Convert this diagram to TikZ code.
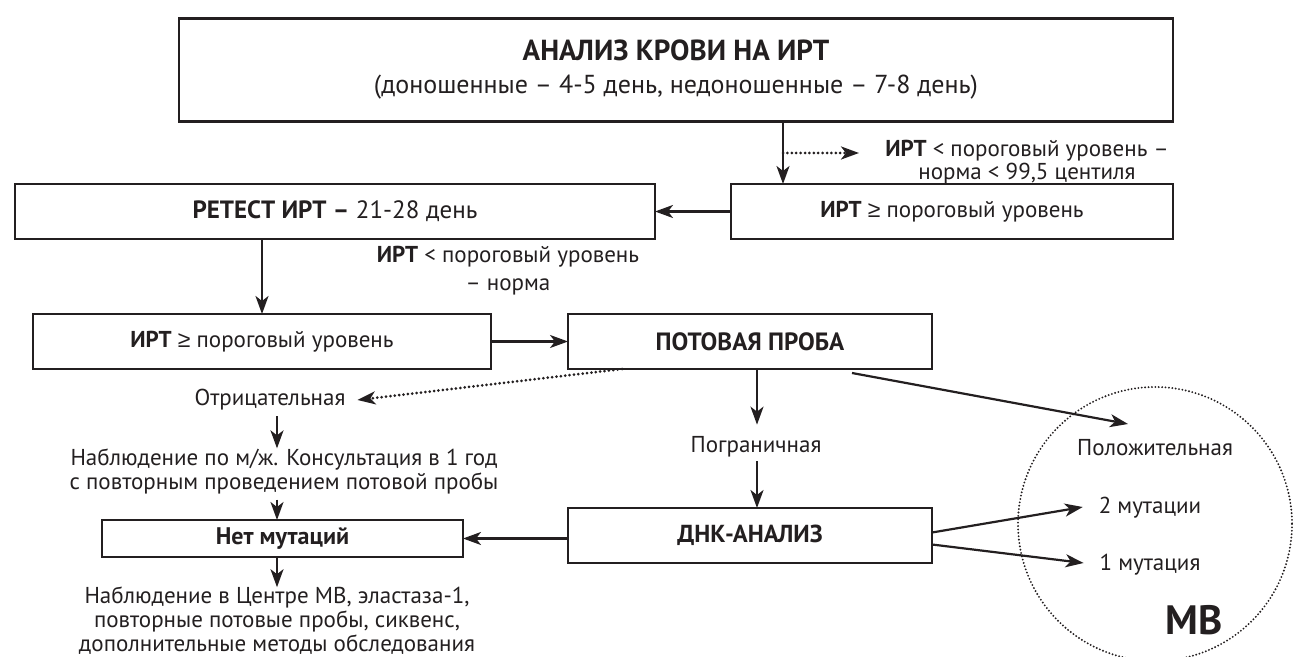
\documentclass[tikz,border=0pt]{standalone}
\usepackage{fontspec}
\setmainfont{PT Sans}
\newfontfamily\symfont{Liberation Sans}
\newcommand{\gee}{{\symfont ≥}}
\usetikzlibrary{arrows.meta,calc}
\definecolor{ink}{HTML}{231F20}
\begin{document}
\begin{tikzpicture}[x=0.5pt,y=-0.5pt,
  box/.style={draw=ink, line width=1.35pt, inner sep=0pt, outer sep=0pt, text=ink, align=center, font=\fontsize{11.5}{12}\selectfont},
  lbl/.style={text=ink, align=center, inner sep=0pt, outer sep=0pt, font=\fontsize{11.5}{12}\selectfont},
  arr/.style={draw=ink, line width=1.1pt, -{Stealth[length=9pt,width=6.5pt,inset=2.5pt]}},
  dotarr/.style={draw=ink, line width=1.5pt, dash pattern=on 0pt off 2.2pt, line cap=round, -{Stealth[length=9pt,width=6.5pt,inset=2.5pt]}},
  ring/.style={draw=ink, line width=1.05pt, dash pattern=on 0pt off 1.7pt, line cap=round}
]
\useasboundingbox (0,0) rectangle (1293,657);

% boxes
\node[box, minimum width=497pt, minimum height=51.5pt, font=\fontsize{13}{16.5}\selectfont] (A) at (676,70)
  {{\fontsize{14.5}{16}\selectfont\bfseries АНАЛИЗ КРОВИ НА ИРТ}\\(доношенные – 4-5 день, недоношенные – 7-8 день)};
\node[box, minimum width=221pt, minimum height=27.5pt] (B) at (952,211.5) {\textbf{ИРТ} \gee{} пороговый уровень};
\node[box, minimum width=320pt, minimum height=27.5pt, font=\fontsize{12.5}{13}\selectfont] (C) at (335,211.5) {\textbf{РЕТЕСТ ИРТ –} 21-28 день};
\node[box, minimum width=229pt, minimum height=27.5pt] (D) at (262,341.5) {\textbf{ИРТ} \gee{} пороговый уровень};
\node[box, minimum width=182pt, minimum height=27.5pt, font=\fontsize{12.5}{13}\selectfont] (E) at (750,341.5) {\textbf{ПОТОВАЯ ПРОБА}};
\node[box, minimum width=182pt, minimum height=27.5pt, font=\fontsize{12.3}{13}\selectfont] (G) at (750,535.5) {\textbf{ДНК-АНАЛИЗ}};
\node[box, minimum width=180.5pt, minimum height=18.5pt, font=\fontsize{12}{12}\selectfont] (F) at (282.5,538.5) {\textbf{Нет мутаций}};

% labels
\node[lbl, font=\fontsize{11.5}{11.5}\selectfont] (L1) at (1027,162) {\textbf{ИРТ} < пороговый уровень –\\норма < 99,5 центиля};
\node[lbl, font=\fontsize{11.5}{14}\selectfont] (L2) at (508,271) {\textbf{ИРТ} < пороговый уровень\\– норма};
\node[lbl] (Otr) at (270,400) {Отрицательная};
\node[lbl] (N1) at (284,471) {Наблюдение по м/ж. Консультация в 1 год\\с повторным проведением потовой пробы};
\node[lbl] (N2) at (277,621) {Наблюдение в Центре МВ, эластаза-1,\\повторные потовые пробы, сиквенс,\\дополнительные методы обследования};
\node[lbl] (Pg) at (756,447) {Пограничная};
\node[lbl] (Pol) at (1155,448) {Положительная};
\node[lbl] (M2) at (1150,508) {2 мутации};
\node[lbl] (M1) at (1150,565) {1 мутация};
\node[lbl, font=\fontsize{20.5}{24}\selectfont\bfseries] (MV) at (1194,620) {МВ};

% circle
\draw[ring] (1155,524) ellipse [x radius=137, y radius=137];

% coordinates
\coordinate (ab) at (783,0);
\coordinate (d1) at (859,153);
\coordinate (cx) at (277,0);
\coordinate (ex) at (757,0);
\coordinate (ptip) at (1128,424);

% connectors
\draw[arr] (ab |- A.south) -- (ab |- B.north);
\draw[dotarr] (ab |- d1) -- (d1);
\draw[arr] (B.west) -- (C.east);
\draw[arr] (D.north |- C.south) -- (D.north);
\draw[arr] (D.east) -- (E.west);
\draw[dotarr] ($(E.south west)+(54,0)$) -- ($(Otr.east)+(12,0)$);
\draw[arr, shorten <=3pt] (cx |- Otr.south) -- (cx |- N1.north);
\draw[arr, shorten <=3pt] (cx |- N1.south) -- (cx |- F.north);
\draw[arr] (cx |- F.south) -- (cx |- N2.north);
\draw[arr] (ex |- E.south) -- ($(ex |- Pg.north)+(0,-12)$);
\draw[arr, shorten <=2pt] (ex |- Pg.south) -- (ex |- G.north);
\draw[arr] ($(E.south east)+(-80,4)$) -- (ptip);
\draw[arr] ($(G.east)+(0,-3)$) -- ($(M2.west)+(-16,-1)$);
\draw[arr] ($(G.east)+(0,9)$) -- ($(M1.west)+(-16,-2)$);
\draw[arr] (G.west |- F.east) -- (F.east);
\end{tikzpicture}
\end{document}
